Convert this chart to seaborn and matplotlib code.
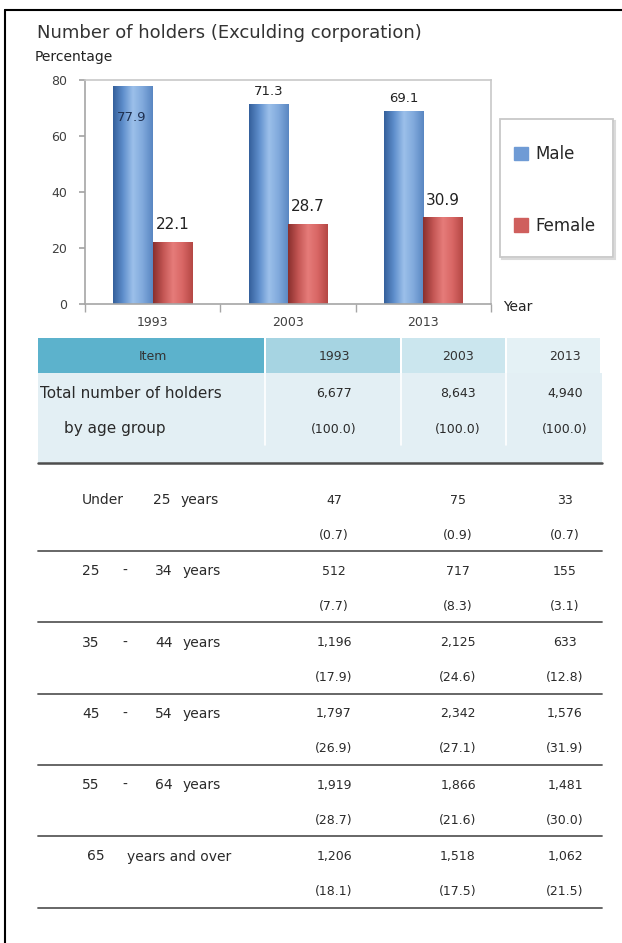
import numpy as np
import pandas as pd
import matplotlib
matplotlib.use("Agg")
import matplotlib.pyplot as plt
import matplotlib.patches as mpatches
from matplotlib.colors import LinearSegmentedColormap
import seaborn as sns

# dados do grafico
anos = ["1993", "2003", "2013"]
masculino = [77.9, 71.3, 69.1]
feminino = [22.1, 28.7, 30.9]

# dados da tabela
total_holders = ["6,677", "8,643", "4,940"]
total_pct = ["(100.0)", "(100.0)", "(100.0)"]
faixas = [["Under", "25", "years"],
          ["25", "-", "34", "years"],
          ["35", "-", "44", "years"],
          ["45", "-", "54", "years"],
          ["55", "-", "64", "years"],
          ["65", "years and over"]]
faixa_valores = [["47", "75", "33"],
                 ["512", "717", "155"],
                 ["1,196", "2,125", "633"],
                 ["1,797", "2,342", "1,576"],
                 ["1,919", "1,866", "1,481"],
                 ["1,206", "1,518", "1,062"]]
faixa_pct = [["(0.7)", "(0.9)", "(0.7)"],
             ["(7.7)", "(8.3)", "(3.1)"],
             ["(17.9)", "(24.6)", "(12.8)"],
             ["(26.9)", "(27.1)", "(31.9)"],
             ["(28.7)", "(21.6)", "(30.0)"],
             ["(18.1)", "(17.5)", "(21.5)"]]

df = pd.DataFrame({
    "ano": anos * 2,
    "sexo": ["Male"] * 3 + ["Female"] * 3,
    "pct": masculino + feminino,
})

sns.set_theme(style="white")
plt.rcParams["font.family"] = ["DejaVu Sans"]

W, H = 622, 943
fig = plt.figure(figsize=(W / 100, H / 100), dpi=100)

def fx(px):
    return px / W

def fy(py):
    return 1 - py / H

# camada de fundo em pixels para moldura e tabela
bg = fig.add_axes([0, 0, 1, 1])
bg.set_xlim(0, W)
bg.set_ylim(H, 0)
bg.axis("off")
bg.plot([5, 5], [10, H], color="black", lw=1.5)
bg.plot([5, W], [10, 10], color="black", lw=1.5)

fig.text(fx(37), fy(33), "Number of holders (Exculding corporation)", fontsize=13,
         color="#333333", va="center")
fig.text(fx(35), fy(57), "Percentage", fontsize=10, color="#222222", va="center")

# grafico de barras
ax = fig.add_axes([fx(85), fy(304), fx(491) - fx(85), fy(80) - fy(304)])
cores = {"Male": "#6F9BD5", "Female": "#CF5F5D"}
sns.barplot(data=df, x="ano", y="pct", hue="sexo", palette=cores, width=0.58,
            ax=ax, legend=False, saturation=1)
ax.set_ylim(0, 80)
ax.set_xlim(-0.5, 2.5)
ax.set_yticks([0, 20, 40, 60, 80])
ax.set_xlabel("")
ax.set_ylabel("")
for s in ax.spines.values():
    s.set_color("#C8C8C8")
    s.set_linewidth(1.2)
ax.spines["left"].set_color("#A6A6A6")
ax.spines["bottom"].set_color("#A6A6A6")
ax.tick_params(axis="y", length=4, color="#A6A6A6", labelsize=9, labelcolor="#404040",
               left=True, pad=9)
ax.tick_params(axis="x", which="major", length=0, labelsize=9, labelcolor="#404040", pad=9)
ax.set_xticks([-0.5, 0.5, 1.5, 2.5], minor=True)
ax.tick_params(axis="x", which="minor", length=6, color="#A6A6A6", bottom=True)

# gradiente cilindrico nas barras
grad_cores = {
    "Male": ["#35609C", "#5F8FCC", "#9CC0EA", "#80A9DC", "#5A87C2"],
    "Female": ["#8A302E", "#C35553", "#E67C7A", "#D86664", "#B54845"],
}
barras = [p for p in ax.patches if p.get_height() > 0]
sexos = ["Male"] * 3 + ["Female"] * 3
for p, sx in zip(barras, sexos):
    cmap = LinearSegmentedColormap.from_list(sx, grad_cores[sx])
    x0, w, h = p.get_x(), p.get_width(), p.get_height()
    im = ax.imshow(np.linspace(0, 1, 64).reshape(1, -1), cmap=cmap, aspect="auto",
                   extent=[x0, x0 + w, 0, h], zorder=p.get_zorder() + 0.1)
    im.set_clip_path(p)
    p.set_edgecolor("none")
ax.set_xlim(-0.5, 2.5)
ax.set_ylim(0, 80)

# rotulos de valor
for p, sx in zip(barras, sexos):
    h = p.get_height()
    cx = p.get_x() + p.get_width() / 2
    if h > 75:
        ax.annotate(f"{h:.1f}", (cx, h), xytext=(-1, -23), textcoords="offset points",
                    ha="center", va="center", fontsize=9.5, color="#1F3050", zorder=5)
    elif sx == "Male":
        ax.annotate(f"{h:.1f}", (cx, h), xytext=(0, 9), textcoords="offset points",
                    ha="center", va="center", fontsize=9.5, color="#222222", zorder=5)
    else:
        ax.annotate(f"{h:.1f}", (cx, h), xytext=(0, 12.5), textcoords="offset points",
                    ha="center", va="center", fontsize=11, color="#222222", zorder=5)

fig.text(fx(503), fy(307), "Year", fontsize=10, color="#222222", va="center")

# legenda com moldura propria
bg.add_patch(mpatches.Rectangle((502, 121), 113, 138, fill=False, ec="#DADADA", lw=1.5))
bg.add_patch(mpatches.Rectangle((500, 119), 113, 138, fill=True, fc="white",
                                ec="#C8C8C8", lw=1.3))
handles = [mpatches.Patch(color=cores["Male"], label="Male"),
           mpatches.Patch(color=cores["Female"], label="Female")]
fig.legend(handles=handles, loc="center left", bbox_to_anchor=(fx(514), fy(190)),
           fontsize=12, frameon=False, handlelength=0.85, handleheight=0.85,
           handletextpad=0.45, labelspacing=3.2, borderpad=0, borderaxespad=0)

# tabela
cab_x = [38, 266, 402, 507, 602]
cab_cores = ["#5CB2CC", "#A6D4E2", "#CBE6EE", "#E4F1F5"]
bg.add_patch(mpatches.Rectangle((38, 373), 564, 90, color="#E3EFF4", lw=0))
for i in range(4):
    bg.add_patch(mpatches.Rectangle((cab_x[i], 338), cab_x[i + 1] - cab_x[i] - 2, 35,
                                    color=cab_cores[i], lw=0))
for xs in [265, 401, 506]:
    bg.plot([xs, xs], [373, 445], color="white", lw=1.2)

col_x = [334, 458, 565]
tfs = 9
cor_txt = "#2A2A2A"
bg.text(153, 356, "Item", ha="center", va="center", fontsize=tfs, color="#333333")
for cx, a in zip(col_x, anos):
    bg.text(cx, 356, a, ha="center", va="center", fontsize=tfs, color="#333333")

bg.text(40, 393, "Total number of holders", va="center", fontsize=11, color=cor_txt)
bg.text(64, 429, "by age group", va="center", fontsize=11, color=cor_txt)
for cx, v, pc in zip(col_x, total_holders, total_pct):
    bg.text(cx, 393, v, ha="center", va="center", fontsize=tfs, color=cor_txt)
    bg.text(cx, 429, pc, ha="center", va="center", fontsize=tfs, color=cor_txt)

bg.plot([38, 602], [463, 463], color="#4D4D4D", lw=1.8)

# posicoes horizontais das palavras de cada rotulo
pos_tokens = {3: [82, 153, 181], 4: [82, 122, 155, 183], 2: [87, 127]}
for i, (toks, vals, pcs) in enumerate(zip(faixas, faixa_valores, faixa_pct)):
    yv = 500 + i * 71.3
    for tx, t in zip(pos_tokens[len(toks)], toks):
        bg.text(tx, yv, t, va="center", fontsize=10, color=cor_txt)
    for cx, v, pc in zip(col_x, vals, pcs):
        bg.text(cx, yv, v, ha="center", va="center", fontsize=tfs, color=cor_txt)
        bg.text(cx, yv + 35, pc, ha="center", va="center", fontsize=tfs, color=cor_txt)
    bg.plot([38, 602], [yv + 51, yv + 51], color="#5A5A5A", lw=1.3)

fig.savefig("out.png", dpi=100)
